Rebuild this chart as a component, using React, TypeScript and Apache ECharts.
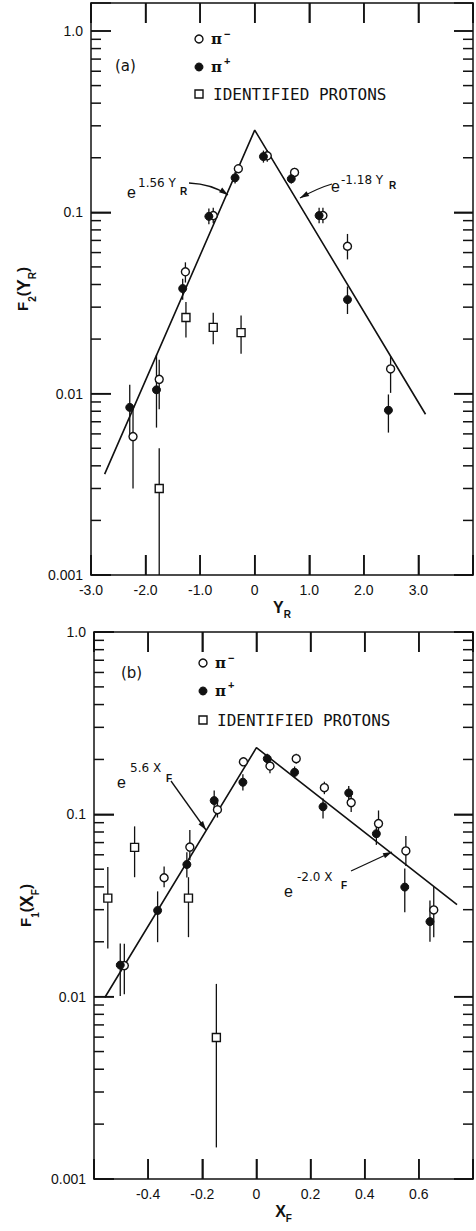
import React, { useEffect, useRef, useState } from "react";
import * as echarts from "echarts";

const INK = "#111";
const SANS = "Liberation Sans";

// ---------- axis ticks ----------
const X_TICKS_A = [-3, -2, -1, 0, 1, 2, 3, 4];
const X_TICK_LABELS_A = ["-3.0", "-2.0", "-1.0", "0", "1.0", "2.0", "3.0", ""];
const X_TICKS_B = [-0.6, -0.4, -0.2, 0, 0.2, 0.4, 0.6, 0.8];
const X_TICK_LABELS_B = ["", "-0.4", "-0.2", "0", "0.2", "0.4", "0.6", ""];
const Y_TICKS = [0.001, 0.01, 0.1, 1];
const Y_TICK_LABELS = ["0.001", "0.01", "0.1", "1.0"];
const MINOR_MULT = [2, 3, 4, 5, 6, 7, 8, 9];
const MINOR_DECADES = [0.001, 0.01, 0.1];

// ---------- panel (a): F2(Y_R) ----------
const PI_MINUS_A = [[-2.23, 0.0058], [-1.75, 0.012], [-1.27, 0.047], [-0.76, 0.096], [-0.3, 0.174], [0.23, 0.205], [0.73, 0.166], [1.25, 0.096], [1.7, 0.065], [2.49, 0.0137]];
const PI_MINUS_A_ERR = [[0.003, 0.0082], [0.0082, 0.0154], [0.041, 0.053], [0.087, 0.106], [0.165, 0.183], [0.19, 0.221], [0.156, 0.176], [0.087, 0.106], [0.055, 0.076], [0.0101, 0.0161]];
const PI_PLUS_A = [[-2.29, 0.0084], [-1.8, 0.0105], [-1.32, 0.038], [-0.84, 0.095], [-0.36, 0.155], [0.16, 0.203], [0.67, 0.153], [1.18, 0.096], [1.7, 0.033], [2.45, 0.0081]];
const PI_PLUS_A_ERR = [[0.0059, 0.0112], [0.0065, 0.0164], [0.033, 0.043], [0.086, 0.105], [0.144, 0.167], [0.188, 0.219], [0.144, 0.163], [0.087, 0.106], [0.0275, 0.039], [0.0061, 0.0099]];
const PROTON_A = [[-1.75, 0.003], [-1.26, 0.0263], [-0.76, 0.0232], [-0.25, 0.0217]];
const PROTON_A_ERR = [[0.001, 0.005], [0.0204, 0.032], [0.0187, 0.0279], [0.0166, 0.027]];
const FIT_A = [[-2.75, 0.0036], [0, 0.284], [3.13, 0.0077]];

// ---------- panel (b): F1(X_F) ----------
const PI_MINUS_B = [[-0.488, 0.0148], [-0.341, 0.0449], [-0.246, 0.0661], [-0.144, 0.106], [-0.048, 0.194], [0.05, 0.184], [0.147, 0.202], [0.251, 0.14], [0.35, 0.116], [0.451, 0.089], [0.552, 0.063], [0.655, 0.0299]];
const PI_MINUS_B_ERR = [[0.0103, 0.0195], [0.0398, 0.0518], [0.056, 0.082], [0.096, 0.117], [0.185, 0.203], [0.168, 0.201], [0.19, 0.215], [0.129, 0.151], [0.103, 0.131], [0.075, 0.105], [0.052, 0.076], [0.0212, 0.0399]];
const PI_PLUS_B = [[-0.503, 0.0149], [-0.365, 0.0297], [-0.257, 0.0531], [-0.156, 0.119], [-0.05, 0.15], [0.04, 0.202], [0.141, 0.17], [0.246, 0.11], [0.341, 0.131], [0.443, 0.0783], [0.548, 0.0399], [0.641, 0.0258]];
const PI_PLUS_B_ERR = [[0.0101, 0.0196], [0.0199, 0.0378], [0.045, 0.062], [0.105, 0.135], [0.135, 0.166], [0.19, 0.215], [0.158, 0.183], [0.095, 0.122], [0.12, 0.143], [0.068, 0.088], [0.029, 0.0505], [0.02, 0.0337]];
const PROTON_B = [[-0.549, 0.0347], [-0.45, 0.0659], [-0.251, 0.0347], [-0.148, 0.00597]];
const PROTON_B_ERR = [[0.0184, 0.0514], [0.0452, 0.0859], [0.0212, 0.0452], [0.00149, 0.01175]];
const FIT_B = [[-0.56, 0.0099], [0, 0.232], [0.741, 0.032]];

function nearestLabel(v: number, ticks: number[], labels: string[]) {
  for (let i = 0; i < ticks.length; i++) if (Math.abs(ticks[i] - v) < 1e-6) return labels[i];
  return "";
}
function isDecade(v: number) {
  const l = Math.log10(v);
  return Math.abs(l - Math.round(l)) < 1e-6;
}
function logLabel(v: number) {
  const l = Math.log10(v);
  for (let i = 0; i < Y_TICKS.length; i++) if (Math.abs(Math.log10(Y_TICKS[i]) - l) < 1e-6) return Y_TICK_LABELS[i];
  return "";
}
const MINOR_VALUES: number[] = [];
MINOR_DECADES.forEach((d) => MINOR_MULT.forEach((m) => MINOR_VALUES.push(+(d * m).toPrecision(3))));

function arrowHead(tx: number, ty: number, fx: number, fy: number, len = 9, half = 2.8) {
  const dx = tx - fx, dy = ty - fy, L = Math.hypot(dx, dy);
  const ux = dx / L, uy = dy / L;
  const bx = tx - ux * len, by = ty - uy * len;
  return [[tx, ty], [bx - uy * half, by + ux * half], [bx + uy * half, by - ux * half]];
}

function txt(text: string, x: number, y: number, size: number, opts: any = {}) {
  return {
    type: "text",
    x,
    y,
    silent: true,
    style: {
      text,
      fill: INK,
      font: `${opts.weight || "normal"} ${size}px "${opts.family || SANS}"`,
      textAlign: opts.align || "left",
      textVerticalAlign: "middle",
    },
  };
}

const ls = () => ({ color: INK, width: 1.5 });
const axLine = () => ({ show: true, onZero: false, lineStyle: ls() });
const axTick = (len: number) => ({ show: true, inside: true, length: len, lineStyle: ls() });

export default function App() {
  const ref = useRef<HTMLDivElement>(null);
  const [diag, setDiag] = useState("");
  useEffect(() => {
    if (!ref.current) return;
    const chart = echarts.init(ref.current, undefined, { renderer: "svg" });

    const grids = [
      { left: 91, top: 3, width: 382, height: 572, show: false },
      { left: 94, top: 632, width: 380, height: 547, show: false },
    ];

    const xCommon = (gi: number, min: number, max: number, interval: number, ticks: number[], labels: string[], name: string, sub: string) => [
      {
        type: "value", gridIndex: gi, min, max, interval, position: "bottom",
        axisLine: axLine(),
        axisTick: axTick(20),
        axisLabel: { color: INK, fontFamily: SANS, fontSize: 14, margin: 8, formatter: (v: number) => nearestLabel(v, ticks, labels) },
        splitLine: { show: false },
        name: `{m|${name}}{s|${sub}}`,
        nameLocation: "middle",
        nameGap: 24,
        nameTextStyle: {
          rich: {
            m: { fontFamily: SANS, fontWeight: "bold", fontSize: 16, color: INK, verticalAlign: "top", lineHeight: 20 },
            s: { fontFamily: SANS, fontWeight: "bold", fontSize: 10, color: INK, verticalAlign: "bottom", lineHeight: 20, padding: [8, 0, 0, 0] },
          },
        },
      },
      {
        type: "value", gridIndex: gi, min, max, interval, position: "top",
        axisLine: axLine(),
        axisTick: axTick(20),
        axisLabel: { show: false },
        splitLine: { show: false },
      },
    ];
    const yCommon = (gi: number, max: number, name: string, sub: string, inner: string, innerSub: string) => [
      {
        type: "log", logBase: 10, gridIndex: gi, min: 0.001, max, position: "left",
        axisLine: axLine(),
        axisTick: axTick(20),
        axisLabel: { color: INK, fontFamily: SANS, fontSize: 14, margin: 8, formatter: (v: number) => logLabel(v) },
        splitLine: { show: false },
        name: `{m|${name}}{s|${sub}}{m|(}{y|${inner}}{s|${innerSub}}{m|)}`,
        nameLocation: "middle",
        nameRotate: 90,
        nameGap: 52,
        nameTextStyle: {
          rich: {
            m: { fontFamily: SANS, fontWeight: "bold", fontSize: 15, color: INK, lineHeight: 22, verticalAlign: "top" },
            y: { fontFamily: SANS, fontWeight: "bold", fontSize: 18, color: INK, lineHeight: 22, verticalAlign: "top" },
            s: { fontFamily: SANS, fontWeight: "bold", fontSize: 10, color: INK, lineHeight: 22, verticalAlign: "bottom" },
          },
        },
      },
      {
        type: "log", logBase: 10, gridIndex: gi, min: 0.001, max, position: "right",
        axisLine: axLine(),
        axisTick: axTick(19),
        axisLabel: { show: false },
        splitLine: { show: false },
      },
    ];

    // rows: [x, y1, y2, kind, len]; kind 0 = error bar, 1 = horizontal tick, 2 = vertical tick
    const panelSeries = (k: number, xMin: number, xMax: number, yMax: number, xTicks: number[], piM: number[][], piMErr: number[][], piP: number[][], piPErr: number[][], pr: number[][], prErr: number[][], fit: number[][]) => {
      const ax = { xAxisIndex: 2 * k, yAxisIndex: 2 * k };
      const rows: number[][] = [];
      [[piM, piMErr], [piP, piPErr], [pr, prErr]].forEach(([pts, errs]) =>
        pts.forEach((p, i) => rows.push([p[0], errs[i][0], errs[i][1], 0, 0]))
      );
      [...Y_TICKS, ...MINOR_VALUES].filter((v) => v <= yMax).forEach((v) => {
        const major = isDecade(v);
        rows.push([xMin, v, v, 1, major ? 20 : 10]);
        rows.push([xMax, v, v, 1, major ? -19 : -10]);
      });
      xTicks.forEach((x) => {
        rows.push([x, 0.001, 0.001, 2, -20]);
        rows.push([x, yMax, yMax, 2, 20]);
      });
      return [
        {
          type: "custom", ...ax, silent: true, z: 2,
          data: rows,
          encode: { x: 0, y: [1, 2] },
          renderItem: (params: any, api: any) => {
            const kind = api.value(3);
            const a = api.coord([api.value(0), api.value(1)]);
            if (kind === 0) {
              const b = api.coord([api.value(0), api.value(2)]);
              return { type: "line", shape: { x1: a[0], y1: a[1], x2: b[0], y2: b[1] }, style: { stroke: INK, lineWidth: 1.3 } };
            }
            const len = api.value(4);
            if (kind === 1) {
              return { type: "line", shape: { x1: a[0], y1: a[1], x2: a[0] + len, y2: a[1] }, style: { stroke: INK, lineWidth: 1.5 } };
            }
            return { type: "line", shape: { x1: a[0], y1: a[1], x2: a[0], y2: a[1] + len }, style: { stroke: INK, lineWidth: 1.5 } };
          },
        },
        {
          type: "line", ...ax, data: fit, symbol: "none", silent: true, z: 3,
          lineStyle: { color: INK, width: 1.6 },
        },
        {
          type: "scatter", ...ax, data: pr, symbol: "rect", symbolSize: 8, z: 4, silent: true,
          itemStyle: { color: "#fff", borderColor: INK, borderWidth: 1.4, opacity: 1 },
        },
        {
          type: "scatter", ...ax, data: piM, symbol: "circle", symbolSize: 8, z: 5, silent: true,
          itemStyle: { color: "#fff", borderColor: INK, borderWidth: 1.4, opacity: 1 },
        },
        {
          type: "scatter", ...ax, data: piP, symbol: "circle", symbolSize: 8, z: 6, silent: true,
          itemStyle: { color: INK, borderColor: INK, borderWidth: 1, opacity: 1 },
        },
      ];
    };

    const legend = (cx: number, y1: number, y2: number, y3: number, textX: number) => [
      { type: "circle", shape: { cx, cy: y1, r: 4 }, style: { fill: "#fff", stroke: INK, lineWidth: 1.4 } },
      txt("π", textX, y1, 15, { weight: "bold", family: "DejaVu Serif" }),
      txt("−", textX + 13, y1 - 5, 11, { weight: "bold" }),
      { type: "circle", shape: { cx, cy: y2, r: 4 }, style: { fill: INK, stroke: INK, lineWidth: 1 } },
      txt("π", textX, y2, 15, { weight: "bold", family: "DejaVu Serif" }),
      txt("+", textX + 13, y2 - 6, 11, { weight: "bold" }),
      { type: "rect", shape: { x: cx - 4, y: y3 - 4, width: 8, height: 8 }, style: { fill: "#fff", stroke: INK, lineWidth: 1.4 } },
      txt("IDENTIFIED PROTONS", textX + 2, y3, 16, { family: "DejaVu Sans Mono" }),
    ];

    const arrow = (pts: number[][], curve?: number[]) => {
      const n = pts.length;
      const tip = pts[n - 1];
      const from = curve ? [curve[0], curve[1]] : pts[0];
      const line = curve
        ? { type: "bezierCurve", shape: { x1: pts[0][0], y1: pts[0][1], x2: tip[0], y2: tip[1], cpx1: curve[0], cpy1: curve[1] }, style: { stroke: INK, lineWidth: 1.3, fill: "none" } }
        : { type: "line", shape: { x1: pts[0][0], y1: pts[0][1], x2: tip[0], y2: tip[1] }, style: { stroke: INK, lineWidth: 1.3 } };
      return [line, { type: "polygon", shape: { points: arrowHead(tip[0], tip[1], from[0], from[1]) }, style: { fill: INK } }];
    };

    const graphics = [
      ...legend(199, 39, 67, 94, 211),
      txt("(a)", 115, 66, 15, { family: "DejaVu Sans" }),
      txt("e", 127, 192, 16),
      txt("1.56 Y", 138, 183, 12, { family: "DejaVu Sans" }),
      txt("R", 180, 191, 10, { weight: "bold" }),
      ...arrow([[189, 183], [228, 195]], [212, 184]),
      txt("e", 331, 186, 16),
      txt("-1.18 Y", 341, 180, 12, { family: "DejaVu Sans" }),
      txt("R", 389, 185, 10, { weight: "bold" }),
      ...arrow([[332, 184], [300, 198]], [318, 188]),
      ...legend(203, 663, 691, 720, 215),
      txt("(b)", 121, 673, 15, { family: "DejaVu Sans" }),
      txt("e", 117, 782, 16),
      txt("5.6 X", 130, 768, 12, { family: "DejaVu Sans" }),
      txt("F", 166, 778, 10, { weight: "bold" }),
      ...arrow([[171, 781], [206, 830]]),
      txt("e", 284, 891, 16),
      txt("-2.0 X", 297, 877, 12, { family: "DejaVu Sans" }),
      txt("F", 341, 885, 10, { weight: "bold" }),
      ...arrow([[351, 871], [392, 852]]),
    ];

    chart.setOption({
      animation: false,
      grid: grids,
      xAxis: [
        ...xCommon(0, -3, 4, 1, X_TICKS_A, X_TICK_LABELS_A, "Y", "R"),
        ...xCommon(1, -0.6, 0.8, 0.2, X_TICKS_B, X_TICK_LABELS_B, "X", "F"),
      ],
      yAxis: [
        ...yCommon(0, 1.427, "F", "2", "Y", "R"),
        ...yCommon(1, 1, "F", "1", "X", "F"),
      ],
      series: [
        ...panelSeries(0, -3, 4, 1.427, X_TICKS_A, PI_MINUS_A, PI_MINUS_A_ERR, PI_PLUS_A, PI_PLUS_A_ERR, PROTON_A, PROTON_A_ERR, FIT_A),
        ...panelSeries(1, -0.6, 0.8, 1, X_TICKS_B, PI_MINUS_B, PI_MINUS_B_ERR, PI_PLUS_B, PI_PLUS_B_ERR, PROTON_B, PROTON_B_ERR, FIT_B),
      ],
      graphic: graphics,
    });

    // diagnostics shown only if the left-edge ticks are missing
    try {
      const svg = ref.current.querySelector("svg");
      if (svg) {
        const paths = Array.from(svg.querySelectorAll("path")) as any[];
        let n = 0;
        paths.forEach((p) => {
          const r = p.getBoundingClientRect();
          if (r.left > 85 && r.left < 100 && r.width > 6 && r.width < 24 && r.height < 4) n++;
        });
        if (n < 10) {
          const el: any = document.elementFromPoint(95, 307);
          const d = (e: any) => e ? `${e.tagName} d=${(e.getAttribute && e.getAttribute("d") || "").slice(0, 40)} f=${e.getAttribute && e.getAttribute("fill")} s=${e.getAttribute && e.getAttribute("stroke")} cp=${e.getAttribute && e.getAttribute("clip-path")}` : "none";
          const near = paths.filter((p) => { const r = p.getBoundingClientRect(); return r.left > 85 && r.left < 100 && r.height < 4; }).slice(0, 3).map((p) => `${p.getAttribute("d")?.slice(0, 30)}|${p.getAttribute("stroke")}|${p.getAttribute("stroke-width")}|${p.getAttribute("opacity")}|${p.parentNode?.getAttribute?.("clip-path")}`);
          const r0 = svg.getBoundingClientRect();
          setDiag(`n=${n} paths=${paths.length} svg=${r0.left},${r0.top},${r0.width}x${r0.height} at95,307: ${d(el)} near: ${near.join(" ;; ")}`);
        }
      }
    } catch (e: any) {
      setDiag("err " + String(e && e.message));
    }
    return () => chart.dispose();
  }, []);
  return (
    <div>
      <div ref={ref} style={{ position: "absolute", left: 0, top: 0, width: 476, height: 1231, background: "#fff" }} />
      {diag ? (
        <div style={{ position: "absolute", top: 960, left: 230, width: 235, fontSize: 10, fontFamily: "DejaVu Sans", background: "#ffe", wordBreak: "break-all" }}>{diag}</div>
      ) : null}
    </div>
  );
}
